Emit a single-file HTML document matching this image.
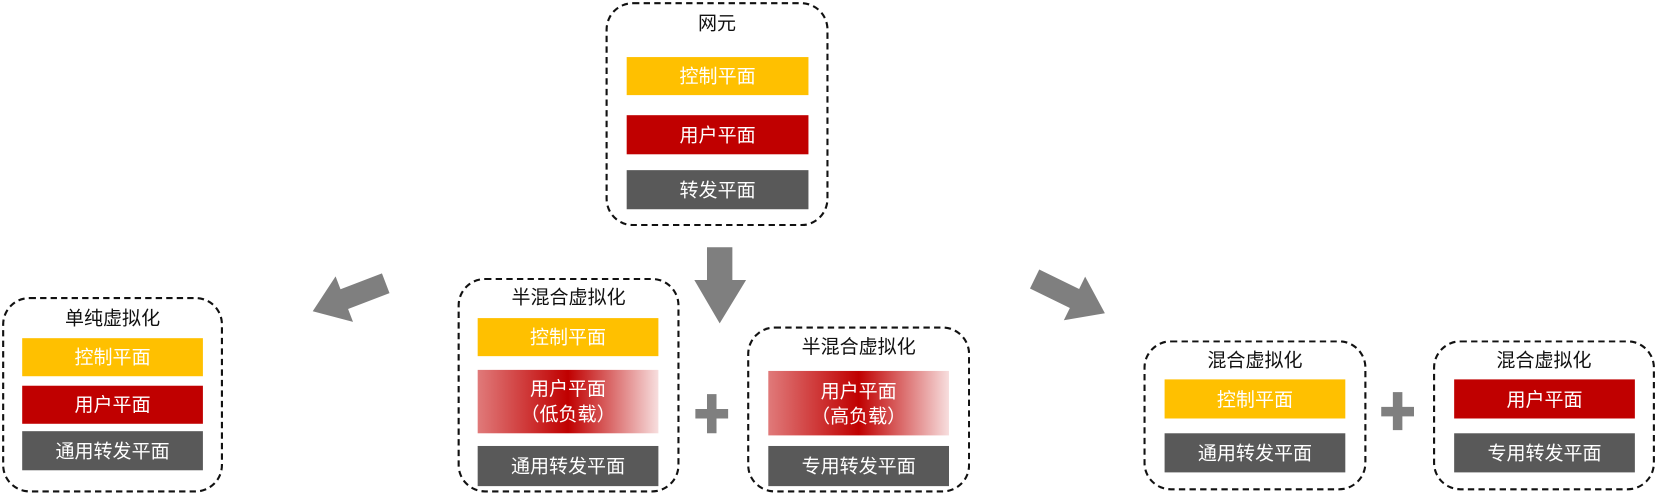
<!DOCTYPE html>
<html><head><meta charset="utf-8"><style>
html,body{margin:0;padding:0;background:#fff;}
#root{position:relative;width:1657px;height:495px;overflow:hidden;}
#s{position:absolute;left:0;top:0;width:1568px;height:468px;transform:scale(1.0568);transform-origin:0 0;font-family:"Liberation Sans","Noto Sans CJK SC",sans-serif;}
.box{position:absolute;border:2px dashed #111;border-radius:26px;box-sizing:border-box;}
.t{position:absolute;font-size:18px;color:#111;text-align:center;line-height:20px;}
.b{position:absolute;color:#fff;font-size:18px;display:flex;align-items:center;justify-content:center;text-align:center;line-height:24px;}
.y{background:#ffc000;}.r{background:#c00000;}.g{background:#595959;}
.gr{background:linear-gradient(90deg,#e07a7a 0%,#c00000 50%,#f7dede 100%);}
</style></head><body><div id="root"><div id="s">
<svg width="1568" height="468" style="position:absolute;left:0;top:0">
<g fill="#7f7f7f">
<polygon points="669,234 693,234 693,265 706,265 681,306 657,265 669,265"/>
<polygon transform="translate(365,268) rotate(159)" points="0,-10 42,-10 42,-23 74,0 42,23 42,10 0,10"/>
<polygon transform="translate(979,264) rotate(26)" points="0,-10 42,-10 42,-23 74,0 42,23 42,10 0,10"/>
<polygon points="669,373 678,373 678,387 689,387 689,396 678,396 678,410 669,410 669,396 658,396 658,387 669,387"/>
<polygon points="1318,371 1327,371 1327,385 1338,385 1338,394 1327,394 1327,407 1318,407 1318,394 1307,394 1307,385 1318,385"/>
</g></svg>

<div class="box" style="left:573px;top:2px;width:211px;height:212px"></div>
<div class="t" style="left:573px;top:12px;width:211px">网元</div>
<div class="b y" style="left:593px;top:54px;width:172px;height:36px">控制平面</div>
<div class="b r" style="left:593px;top:109px;width:172px;height:37px">用户平面</div>
<div class="b g" style="left:593px;top:161px;width:172px;height:37px">转发平面</div>

<div class="box" style="left:2px;top:281px;width:209px;height:185px"></div>
<div class="t" style="left:2px;top:291px;width:209px">单纯虚拟化</div>
<div class="b y" style="left:21px;top:320px;width:171px;height:36px">控制平面</div>
<div class="b r" style="left:21px;top:365px;width:171px;height:36px">用户平面</div>
<div class="b g" style="left:21px;top:408px;width:171px;height:37px">通用转发平面</div>

<div class="box" style="left:433px;top:263px;width:210px;height:203px"></div>
<div class="t" style="left:433px;top:271px;width:210px">半混合虚拟化</div>
<div class="b y" style="left:452px;top:301px;width:171px;height:36px">控制平面</div>
<div class="b gr" style="left:452px;top:350px;width:171px;height:60px">用户平面<br>（低负载）</div>
<div class="b g" style="left:452px;top:422px;width:171px;height:38px">通用转发平面</div>

<div class="box" style="left:707px;top:309px;width:211px;height:157px"></div>
<div class="t" style="left:707px;top:318px;width:211px">半混合虚拟化</div>
<div class="b gr" style="left:727px;top:351px;width:171px;height:61px">用户平面<br>（高负载）</div>
<div class="b g" style="left:727px;top:422px;width:171px;height:38px">专用转发平面</div>

<div class="box" style="left:1082px;top:322px;width:211px;height:142px"></div>
<div class="t" style="left:1082px;top:331px;width:211px">混合虚拟化</div>
<div class="b y" style="left:1102px;top:359px;width:171px;height:37px">控制平面</div>
<div class="b g" style="left:1102px;top:410px;width:171px;height:37px">通用转发平面</div>

<div class="box" style="left:1356px;top:322px;width:210px;height:142px"></div>
<div class="t" style="left:1356px;top:331px;width:210px">混合虚拟化</div>
<div class="b r" style="left:1376px;top:359px;width:171px;height:37px">用户平面</div>
<div class="b g" style="left:1376px;top:410px;width:171px;height:37px">专用转发平面</div>
</div></div></body></html>
